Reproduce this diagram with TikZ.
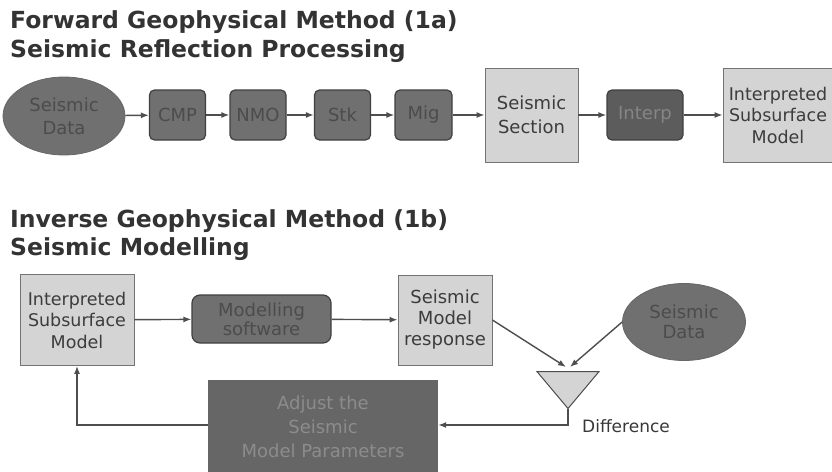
\documentclass[tikz,border=0pt]{standalone}
\usepackage{fontspec}
\setmainfont{DejaVu Sans}
\usetikzlibrary{arrows.meta,shapes.geometric}
\definecolor{darkfill}{HTML}{707070}
\definecolor{darktext}{HTML}{4C4C4C}
\definecolor{lightfill}{HTML}{D4D4D4}
\definecolor{linegray}{HTML}{4E4E4E}
\definecolor{boxtext}{HTML}{3C3C3C}
\tikzset{
  title/.style={anchor=base west, inner sep=0pt, font=\bfseries\fontsize{23.5}{26}\selectfont, text=black!80},
  procbox/.style={draw=black!75, line width=1.2pt, fill=darkfill, rounded corners=5pt,
    minimum height=50pt, text=darktext, font=\fontsize{18}{20}\selectfont, inner sep=0pt},
  litebox/.style={draw=black!55, line width=0.8pt, fill=lightfill, text=boxtext,
    font=\fontsize{17.5}{21.5}\selectfont, align=center, inner sep=0pt},
  dataell/.style={ellipse, draw=black!60, line width=0.8pt, fill=darkfill, text=darktext,
    font=\fontsize{18}{23}\selectfont, align=center, inner sep=0pt},
  conn/.style={draw=linegray, line width=1.4pt, -{Latex[length=8pt,width=6pt]}},
}
\begin{document}
\begin{tikzpicture}[x=1pt,y=-1pt]
\useasboundingbox (0,0) rectangle (832,471);
\fill[white] (0,0) rectangle (832,471);
% titles
\node[title] (t1) at (10,28) {Forward Geophysical Method (1a)};
\node[title] (t2) at (10,57) {Seismic Reflection Processing};
\node[title] (t3) at (10,227) {Inverse Geophysical Method (1b)};
\node[title] (t4) at (10,255) {Seismic Modelling};
% top row
\node[dataell, minimum width=122pt, minimum height=78pt] (sd1) at (64,116) {Seismic\\Data};
\node[procbox, minimum width=56pt] (cmp) at (177.5,115) {CMP};
\node[procbox, minimum width=56pt] (nmo) at (258,115) {NMO};
\node[procbox, minimum width=56pt] (stk) at (342.5,115) {Stk};
\node[procbox, minimum width=57pt] (mig) at (423.5,115) {Mig};
\node[litebox, minimum width=93pt, minimum height=94pt, font=\fontsize{18}{24}\selectfont] (sec) at (531.5,115) {Seismic\\Section};
\node[procbox, minimum width=76pt, fill=black!64, text=black!48] (interp) at (645,115) {Interp};
\node[litebox, minimum width=110pt, minimum height=94pt] (ism1) at (778,115) {Interpreted\\Subsurface\\Model};
\draw[conn] (sd1) -- (cmp);
\draw[conn] (cmp) -- (nmo);
\draw[conn] (nmo) -- (stk);
\draw[conn] (stk) -- (mig);
\draw[conn] (mig) -- (sec);
\draw[conn] (sec) -- (interp);
\draw[conn] (interp) -- (ism1);
% bottom
\node[litebox, minimum width=114pt, minimum height=91pt] (ism2) at (77,320) {Interpreted\\Subsurface\\Model};
\node[procbox, minimum width=139pt, minimum height=48pt, rounded corners=8pt, align=center,
  font=\fontsize{18}{19}\selectfont] (msw) at (261.5,319) {Modelling\\software};
\node[litebox, minimum width=94pt, minimum height=90pt, font=\fontsize{18}{21}\selectfont] (smr) at (445,320) {Seismic\\Model\\response};
\node[dataell, minimum width=123pt, minimum height=77pt, font=\fontsize{18}{20}\selectfont] (sd2) at (684,322) {Seismic\\Data};
\node[isosceles triangle, isosceles triangle apex angle=80, shape border rotate=-90,
  draw=black!70, line width=1pt, fill=lightfill, minimum height=37pt, inner sep=0pt,
  minimum width=62pt] (diff) at (568,386) {};
\node[draw=none, fill=black!60, minimum width=230pt, minimum height=94pt, inner sep=0pt,
  text=black!45, align=center, font=\fontsize{18}{24}\selectfont] (upd) at (323,427) {Adjust the\\Seismic\\Model Parameters};
\node[anchor=west, inner sep=0pt, font=\fontsize{17}{19}\selectfont, text=black!78] (dlab) at (582,426) {Difference};
\coordinate (ct) at (566,367);
\coordinate (dtop) at (570,367);
\coordinate (dlow) at (568,425);
\coordinate (corner) at (77,425);
\draw[conn] (ism2) -- (msw);
\draw[conn] (msw) -- (smr);
\draw[conn] (smr.east) -- (ct);
\draw[conn] (sd2.west) -- (dtop);
\draw[conn] (diff.apex) -- (dlow) -- (upd.east |- dlow);
\draw[conn] (upd.west |- corner) -- (corner) -- (ism2.south);
\end{tikzpicture}
\end{document}
